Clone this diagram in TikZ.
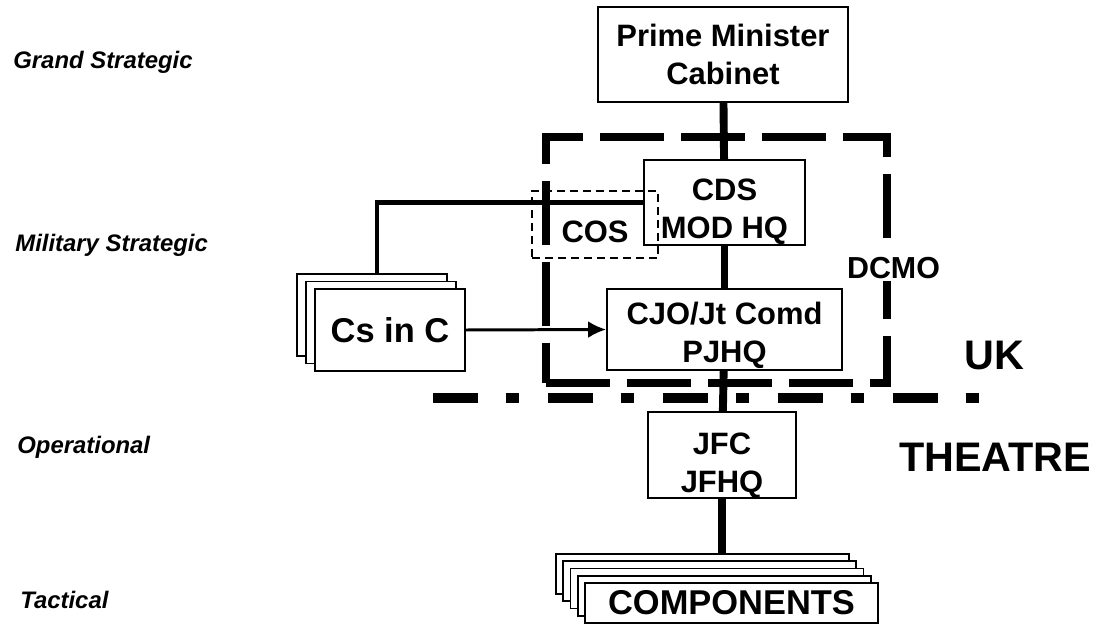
\documentclass[tikz,border=0pt]{standalone}
\usepackage{fontspec}
\setmainfont{Liberation Sans}
\usepackage{tikz}
\usetikzlibrary{arrows.meta,positioning}
\newcommand{\lowtext}[1]{\rule{0pt}{#1}}

\begin{document}
\begin{tikzpicture}[
  x=0.02cm, y=-0.02cm,
  hq/.style={rectangle, draw, line width=1.1pt, fill=white, inner sep=0pt,
             align=center, font=\fontsize{17.6}{21.5}\selectfont\bfseries},
  pile/.style={hq, font=\fontsize{19.6}{22}\selectfont\bfseries},
  level/.style={anchor=west, inner sep=0pt, font=\fontsize{13.6}{16}\selectfont\bfseries\itshape},
  zone/.style={inner sep=0pt, font=\fontsize{23.5}{27}\selectfont\bfseries},
  chain/.style={line width=4.5pt},
  feed/.style={line width=2.8pt},
  arrow/.style={-{Latex[length=0.36cm, width=0.34cm]}, line width=1.7pt},
  dcmobox/.style={rectangle, draw, line width=4.5pt, inner sep=0pt,
                  dash pattern=on 1.28cm off 0.34cm},
  cosbox/.style={rectangle, draw, line width=1.1pt, inner sep=0pt,
                 dash pattern=on 0.16cm off 0.1cm, font=\fontsize{17.6}{21.5}\selectfont\bfseries},
  border/.style={line width=5.7pt, dash pattern=on 0.9cm off 0.56cm on 0.26cm off 0.58cm}
]
  \useasboundingbox (0,0) rectangle (1103,625);

  % levels of command
  \node[level] (grand) at (13,62) {Grand Strategic};
  \node[level] (milstrat) at (15,245) {Military Strategic};
  \node[level] (oper) at (17,447) {Operational};
  \node[level] (tact) at (20,600) {Tactical};

  % chain of command
  \node[dcmobox, minimum width=6.82cm, minimum height=4.92cm] (dcmo) at (716.5,260) {};
  \node[hq, minimum width=5cm, minimum height=1.9cm] (pm) at (723,54.5) {Prime Minister\\Cabinet};
  \node[hq, minimum width=3.22cm, minimum height=1.62cm] (cds) at (724.5,202.5) {\lowtext{23pt}CDS\\MOD HQ};
  \node[cosbox, minimum width=2.52cm, minimum height=1.34cm] (cos) at (595,224.5) {\lowtext{20.8pt}COS};
  \node[hq, minimum width=4.7cm, minimum height=1.62cm] (cjo) at (724.5,329.5) {\lowtext{19.6pt}CJO/Jt Comd\\PJHQ};
  \node[hq, minimum width=2.96cm, minimum height=1.64cm] (jfc) at (722,455) {\lowtext{24.2pt}JFC\\JFHQ};
  \node[inner sep=1pt, fill=white, font=\fontsize{17.3}{21}\selectfont\bfseries] (dcmolabel) at (893.5,268) {DCMO};

  % Cs in C
  \node[pile, minimum width=3cm, minimum height=1.64cm] (csc1) at (372,315) {};
  \node[pile, minimum width=3cm, minimum height=1.64cm] (csc2) at (381,322.5) {};
  \node[pile, minimum width=3cm, minimum height=1.64cm] (csc3) at (390,330) {Cs in C};

  % components
  \node[pile, minimum width=5.86cm, minimum height=0.8cm] (komp1) at (702.5,574) {};
  \node[pile, minimum width=5.86cm, minimum height=0.8cm] (komp2) at (709.75,581.25) {};
  \node[pile, minimum width=5.86cm, minimum height=0.8cm] (komp3) at (717,588.5) {};
  \node[pile, minimum width=5.86cm, minimum height=0.8cm] (komp4) at (724.25,595.75) {};
  \node[pile, minimum width=5.86cm, minimum height=0.8cm] (komp5) at (731.5,603) {COMPONENTS};

  % UK / theatre boundary
  \coordinate (bleft) at (433,398);
  \coordinate (bright) at (982,398);
  \draw[border] (bleft) -- (bright);
  \node[zone] (uk) at (994,355) {UK};
  \node[zone] (theatre) at (995,457) {THEATRE};

  \draw[chain] (pm) -- (cds);
  \draw[chain] (cds) -- (cjo);
  \draw[chain] (cjo) -- (jfc);
  \draw[chain] (jfc.south) -- (jfc.south |- komp1.north);
  \draw[feed] ([xshift=0.1cm]csc1.north) |- (cds.west);
  \draw[arrow] (csc3.east) -- (cjo.west);
\end{tikzpicture}
\end{document}
